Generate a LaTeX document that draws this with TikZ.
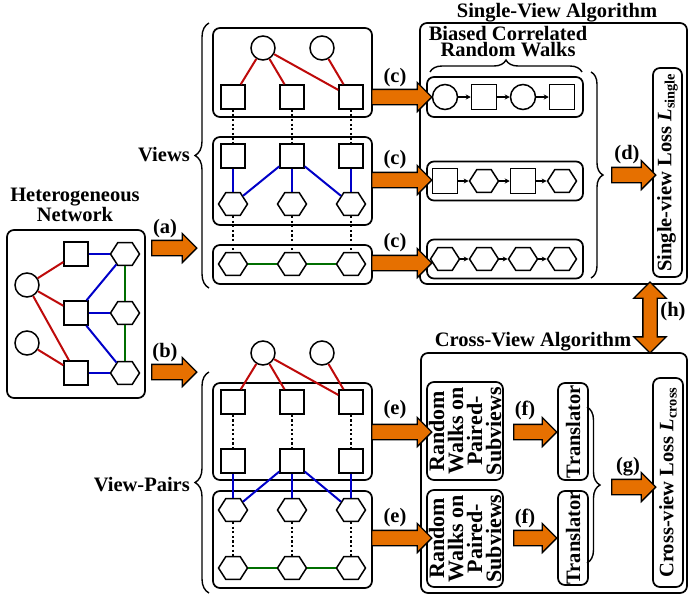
\documentclass[tikz,border=0pt]{standalone}
\usepackage{fontspec}
\setmainfont{Liberation Serif}
\usetikzlibrary{shapes.geometric,shapes.arrows,decorations.pathreplacing,arrows.meta}
\definecolor{orA}{RGB}{230,112,0}
\definecolor{redE}{RGB}{190,10,10}
\definecolor{blueE}{RGB}{0,0,200}
\definecolor{greenE}{RGB}{0,110,0}
\begin{document}
\begin{tikzpicture}[x=1pt,y=-1pt,
  font=\fontsize{20.5}{15}\selectfont\bfseries,
  sq/.style={draw, line width=1.5pt, fill=white, minimum size=24pt, inner sep=0pt},
  cir/.style={circle, draw, line width=1.5pt, fill=white, minimum size=24pt, inner sep=0pt},
  hex/.style={regular polygon, regular polygon sides=6, draw, line width=1.5pt, fill=white, minimum size=29pt, inner sep=0pt, yscale=0.9},
  box/.style={draw, rounded corners=7pt, line width=1.7pt, inner sep=0pt},
  rE/.style={draw=redE, line width=2pt},
  bE/.style={draw=blueE, line width=2pt},
  gE/.style={draw=greenE, line width=2pt},
  dotE/.style={draw=black, line width=1.8pt, dash pattern=on 2.2pt off 2.4pt},
  wE/.style={-{Stealth[length=5pt,width=5pt]}, line width=1.1pt},
  bigarrow/.style={single arrow, draw=black, fill=orA, line width=1.3pt, inner xsep=0pt, inner ysep=7pt, single arrow head extend=7pt, minimum height=#1},
  bracestyle/.style={decorate, decoration={brace, amplitude=#1}, line width=1.4pt},
  lbl/.style={inner sep=0pt},
]
\useasboundingbox (0,0) rectangle (689,598);

% ---------------- Heterogeneous network
\node[lbl, align=center] (hett) at (75,205) {Heterogeneous\\Network};
\node[box, minimum width=138pt, minimum height=168pt] (het) at (76,314) {};
\node[cir] (hc1) at (27,285) {};
\node[cir] (hc2) at (27,343) {};
\node[sq] (hs1) at (76,254) {};
\node[sq] (hs2) at (76,313) {};
\node[sq] (hs3) at (76,373) {};
\node[hex] (hh1) at (125,254) {};
\node[hex] (hh2) at (125,313) {};
\node[hex] (hh3) at (125,373) {};
\draw[rE] (hc1) -- (hs1);
\draw[rE] (hc1) -- (hs2);
\draw[rE] (hc1) -- (hs3);
\draw[rE] (hc2) -- (hs3);
\draw[bE] (hs1) -- (hh1);
\draw[bE] (hs2) -- (hh1);
\draw[bE] (hs2) -- (hh2);
\draw[bE] (hs2) -- (hh3);
\draw[bE] (hs3) -- (hh3);
\draw[gE] (hh1) -- (hh2);
\draw[gE] (hh2) -- (hh3);

% ---------------- arrows (a), (b)
\node[bigarrow=45pt] (arra) at (170.5,248) {};
\node[lbl] (la) at (165,229) {(a)};
\node[bigarrow=45pt] (arrb) at (170.5,372) {};
\node[lbl] (lb) at (165,353) {(b)};

% ---------------- Views
\draw[bracestyle=14pt] (209,288) -- (209,23);
\node[lbl, anchor=east] (views) at (190,155) {Views};
\node[box, minimum width=159pt, minimum height=89pt] (vb1) at (292.5,72.5) {};
\node[box, minimum width=159pt, minimum height=88pt] (vb2) at (292.5,181) {};
\node[box, minimum width=159pt, minimum height=39pt] (vb3) at (292.5,264.5) {};
\node[cir] (vc1) at (263,48) {};
\node[cir] (vc2) at (322,48) {};
\node[sq] (vs1) at (233,97) {};
\node[sq] (vs2) at (292,97) {};
\node[sq] (vs3) at (351,97) {};
\node[sq] (vt1) at (233,156) {};
\node[sq] (vt2) at (292,156) {};
\node[sq] (vt3) at (351,156) {};
\node[hex] (vh1) at (233,204) {};
\node[hex] (vh2) at (292,204) {};
\node[hex] (vh3) at (351,204) {};
\node[hex] (vg1) at (233,264) {};
\node[hex] (vg2) at (292,264) {};
\node[hex] (vg3) at (351,264) {};
\draw[rE] (vc1) -- (vs1);
\draw[rE] (vc1) -- (vs2);
\draw[rE] (vc1) -- (vs3);
\draw[rE] (vc2) -- (vs3);
\draw[dotE] (vs1) -- (vt1);
\draw[dotE] (vs2) -- (vt2);
\draw[dotE] (vs3) -- (vt3);
\draw[bE] (vt1) -- (vh1);
\draw[bE] (vt2) -- (vh1);
\draw[bE] (vt2) -- (vh2);
\draw[bE] (vt2) -- (vh3);
\draw[bE] (vt3) -- (vh3);
\draw[dotE] (vh1) -- (vg1);
\draw[dotE] (vh2) -- (vg2);
\draw[dotE] (vh3) -- (vg3);
\draw[gE] (vg1) -- (vg2);
\draw[gE] (vg2) -- (vg3);

% ---------------- View-Pairs
\draw[bracestyle=14pt] (209,593) -- (209,372);
\node[lbl, anchor=east] (vpairs) at (190,485) {View-Pairs};
\node[box, minimum width=159pt, minimum height=97pt] (pb1) at (292.5,431.5) {};
\node[box, minimum width=159pt, minimum height=97pt] (pb2) at (292.5,539.5) {};
\node[cir] (pc1) at (263,353) {};
\node[cir] (pc2) at (322,353) {};
\node[sq] (ps1) at (233,402) {};
\node[sq] (ps2) at (292,402) {};
\node[sq] (ps3) at (351,402) {};
\node[sq] (pt1) at (233,461) {};
\node[sq] (pt2) at (292,461) {};
\node[sq] (pt3) at (351,461) {};
\node[hex] (ph1) at (233,510) {};
\node[hex] (ph2) at (292,510) {};
\node[hex] (ph3) at (351,510) {};
\node[hex] (pg1) at (233,568) {};
\node[hex] (pg2) at (292,568) {};
\node[hex] (pg3) at (351,568) {};
\draw[rE] (pc1) -- (ps1);
\draw[rE] (pc1) -- (ps2);
\draw[rE] (pc1) -- (ps3);
\draw[rE] (pc2) -- (ps3);
\draw[dotE] (ps1) -- (pt1);
\draw[dotE] (ps2) -- (pt2);
\draw[dotE] (ps3) -- (pt3);
\draw[bE] (pt1) -- (ph1);
\draw[bE] (pt2) -- (ph1);
\draw[bE] (pt2) -- (ph2);
\draw[bE] (pt2) -- (ph3);
\draw[bE] (pt3) -- (ph3);
\draw[dotE] (ph1) -- (pg1);
\draw[dotE] (ph2) -- (pg2);
\draw[dotE] (ph3) -- (pg3);
\draw[gE] (pg1) -- (pg2);
\draw[gE] (pg2) -- (pg3);

% ---------------- Single-View Algorithm
\node[box, minimum width=267pt, minimum height=261pt] (sv) at (553.5,153.5) {};
\node[lbl] (svt) at (557,12.5) {Single-View Algorithm};
\node[lbl, align=center, font=\fontsize{20.5}{16}\selectfont\bfseries] (bcrw) at (508,42) {Biased Correlated\\Random Walks};
\draw[bracestyle=12pt] (430,72) -- (582,72);
\node[box, minimum width=156pt, minimum height=40pt] (wb1) at (505,97) {};
\node[box, minimum width=156pt, minimum height=39pt] (wb2) at (505,181) {};
\node[box, minimum width=156pt, minimum height=39pt] (wb3) at (505,259) {};
\node[cir, minimum size=25pt] (w11) at (445,97) {};
\node[sq, minimum size=25pt] (w12) at (484,97) {};
\node[cir, minimum size=25pt] (w13) at (523,97) {};
\node[sq, minimum size=25pt] (w14) at (562,97) {};
\node[sq, minimum size=25pt] (w21) at (445,181) {};
\node[hex] (w22) at (484,181) {};
\node[sq, minimum size=25pt] (w23) at (523,181) {};
\node[hex] (w24) at (562,181) {};
\node[hex] (w31) at (445,259) {};
\node[hex] (w32) at (484,259) {};
\node[hex] (w33) at (523,259) {};
\node[hex] (w34) at (562,259) {};
\draw[wE] (w11) -- (w12);
\draw[wE] (w12) -- (w13);
\draw[wE] (w13) -- (w14);
\draw[wE] (w21) -- (w22);
\draw[wE] (w22) -- (w23);
\draw[wE] (w23) -- (w24);
\draw[wE] (w31) -- (w32);
\draw[wE] (w32) -- (w33);
\draw[wE] (w33) -- (w34);
\draw[bracestyle=12pt] (591,72) -- (591,278);
\node[box, rotate=90, minimum width=209pt, minimum height=29pt] (svl) at (667.5,172.5) {Single-view Loss \textit{L}\textsubscript{single}};

% (c) arrows
\node[bigarrow=60pt] (arc1) at (398,97) {};
\node[lbl] (lc1) at (395,78) {(c)};
\node[bigarrow=60pt] (arc2) at (398,180) {};
\node[lbl] (lc2) at (395,160) {(c)};
\node[bigarrow=60pt] (arc3) at (398,263) {};
\node[lbl] (lc3) at (395,243) {(c)};
% (d)
\node[bigarrow=44pt] (ard) at (630,175) {};
\node[lbl] (ld) at (627,155) {(d)};

% (h)
\node[double arrow, draw=black, fill=orA, line width=1.3pt, inner xsep=0pt, inner ysep=6.5pt, double arrow head extend=9pt, minimum height=71pt, rotate=90] (arh) at (650,317.5) {};
\node[lbl] (lh) at (673,312) {(h)};

% ---------------- Cross-View Algorithm
\node[box, minimum width=266pt, minimum height=240pt] (cv) at (554,473) {};
\node[lbl] (cvt) at (533,342) {Cross-View Algorithm};
\node[box, rotate=90, minimum width=98pt, minimum height=76pt, align=center, font=\fontsize{22}{19}\selectfont\bfseries] (rw1) at (465,431) {Random\\Walks on\\Paired-\\Subviews};
\node[box, rotate=90, minimum width=97pt, minimum height=76pt, align=center, font=\fontsize{22}{19}\selectfont\bfseries] (rw2) at (465,538.5) {Random\\Walks on\\Paired-\\Subviews};
\node[box, rotate=90, minimum width=97pt, minimum height=30pt] (tr1) at (573,431.5) {Translator};
\node[box, rotate=90, minimum width=94pt, minimum height=30pt] (tr2) at (573,538) {Translator};
\draw[bracestyle=13pt] (587,407) -- (587,563);
\node[box, rotate=90, minimum width=209pt, minimum height=30pt] (cvl) at (668,482.5) {Cross-view Loss \textit{L}\textsubscript{cross}};

% (e), (f), (g)
\node[bigarrow=60pt] (are1) at (398,432) {};
\node[lbl] (le1) at (395,410) {(e)};
\node[bigarrow=60pt] (are2) at (398,538) {};
\node[lbl] (le2) at (395,518) {(e)};
\node[bigarrow=43pt] (arf1) at (531.5,432) {};
\node[lbl] (lf1) at (525,410) {(f)};
\node[bigarrow=43pt] (arf2) at (531.5,538) {};
\node[lbl] (lf2) at (525,518) {(f)};
\node[bigarrow=44pt] (arg) at (630,487) {};
\node[lbl] (lg) at (628,467) {(g)};
\end{tikzpicture}
\end{document}
